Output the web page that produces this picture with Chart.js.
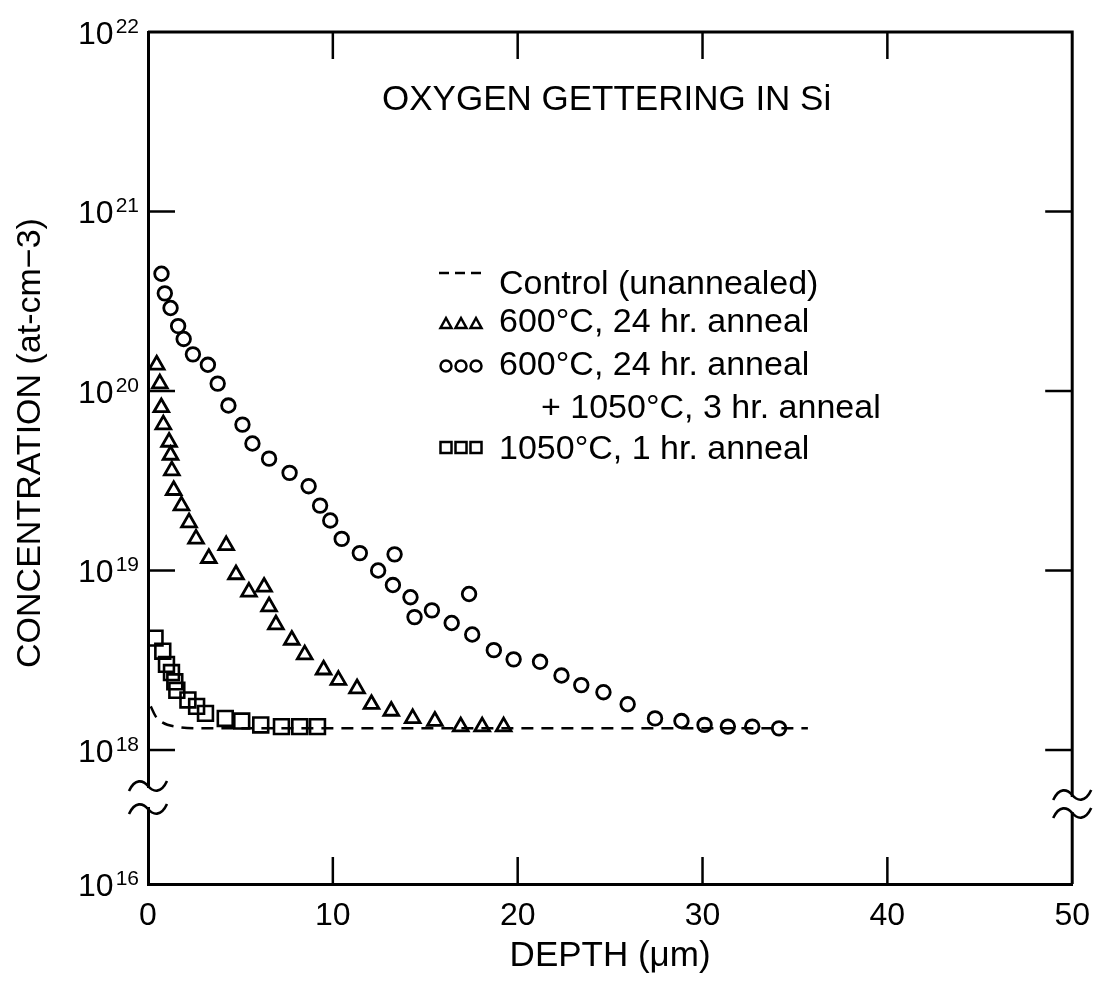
<!DOCTYPE html>
<html>
<head>
<meta charset="utf-8">
<script src="https://cdn.jsdelivr.net/npm/chart.js@4.4.1/dist/chart.umd.min.js"></script>
<style>
html, body { margin: 0; padding: 0; background: #fff; }
canvas { display: block; }
</style>
</head>
<body>
<canvas id="myChart" width="1103" height="983"></canvas>
<script>
const FONT = '"Liberation Sans", Arial, Helvetica, sans-serif';

// depth in um, concentration in at/cm3
const control_depth = [0.15, 0.4, 0.8, 1.5, 3, 35.7];
const control_conc = [1.75e18, 1.55e18, 1.42e18, 1.35e18, 1.32e18, 1.32e18];

const tri_depth = [0.47, 0.64, 0.72, 0.83, 1.14, 1.22, 1.29, 1.39, 1.81, 2.22, 2.60, 3.29, 4.23, 4.76, 5.46,
  6.28, 6.55, 6.92, 7.78, 8.48, 9.50, 10.30, 11.31, 12.09, 13.16, 14.32, 15.52, 16.92, 18.08, 19.24];
const tri_conc = [1.4e20, 1.1e20, 8.1e19, 6.5e19, 5.2e19, 4.4e19, 3.6e19, 2.8e19, 2.3e19, 1.85e19, 1.5e19, 1.17e19, 1.38e19, 9.5e18, 7.6e18,
  8.1e18, 6.3e18, 5.0e18, 4.1e18, 3.4e18, 2.8e18, 2.45e18, 2.2e18, 1.8e18, 1.65e18, 1.5e18, 1.45e18, 1.35e18, 1.35e18, 1.35e18];

const circ_depth = [0.73, 0.91, 1.22, 1.63, 1.93, 2.43, 3.24, 3.77, 4.35, 5.11, 5.65, 6.55, 7.66, 8.69, 9.31, 9.86,
  10.48, 11.46, 12.45, 13.34, 13.25, 14.20, 14.42, 15.36, 16.43, 17.37, 17.54, 18.71, 19.78, 21.21, 22.37, 23.44,
  24.64, 25.95, 27.43, 28.86, 30.11, 31.37, 32.69, 34.14];
const circ_conc = [4.5e20, 3.5e20, 2.9e20, 2.3e20, 1.95e20, 1.6e20, 1.4e20, 1.1e20, 8.3e19, 6.5e19, 5.1e19, 4.2e19, 3.5e19, 2.95e19, 2.3e19, 1.9e19,
  1.5e19, 1.25e19, 1.0e19, 1.23e19, 8.3e18, 7.1e18, 5.5e18, 6.0e18, 5.1e18, 7.4e18, 4.4e18, 3.6e18, 3.2e18, 3.1e18, 2.6e18, 2.3e18,
  2.1e18, 1.8e18, 1.5e18, 1.45e18, 1.38e18, 1.35e18, 1.35e18, 1.32e18];

const sq_depth = [0.38, 0.80, 1.00, 1.27, 1.45, 1.56, 2.16, 2.63, 3.11, 4.18, 5.07, 6.10, 7.22, 8.21, 9.17];
const sq_conc = [4.2e18, 3.55e18, 3.0e18, 2.7e18, 2.4e18, 2.15e18, 1.9e18, 1.75e18, 1.6e18, 1.5e18, 1.45e18, 1.38e18, 1.35e18, 1.35e18, 1.35e18];

const xTicks = [0, 10, 20, 30, 40, 50];
// y axis has a break between 10^18 and 10^16, the bottom of the axis is labelled 10^16
const yBottom = 1.793e17;
const yTickValues = [1e22, 1e21, 1e20, 1e19, 1e18, yBottom];
const yTickExps = ['22', '21', '20', '19', '18', '16'];

const chartTitle = 'OXYGEN GETTERING IN Si';
const xTitle = 'DEPTH (\u03bcm)';
const yTitle = 'CONCENTRATION (at-cm\u22123)';
const legendLabels = ['Control (unannealed)', '600\u00b0C, 24 hr. anneal', '600\u00b0C, 24 hr. anneal', '+ 1050\u00b0C, 3 hr. anneal', '1050\u00b0C, 1 hr. anneal'];

function toPoints(xs, ys) {
  return xs.map((x, i) => ({ x: x, y: ys[i] }));
}

function line(ctx, x1, y1, x2, y2) {
  ctx.beginPath();
  ctx.moveTo(x1, y1);
  ctx.lineTo(x2, y2);
  ctx.stroke();
}

function breakMark(ctx, x, y) {
  ctx.beginPath();
  ctx.moveTo(x - 19, y + 5);
  ctx.bezierCurveTo(x - 13, y - 8, x - 5, y - 6, x, y);
  ctx.bezierCurveTo(x + 5, y + 6, x + 13, y + 8, x + 19, y - 5);
  ctx.stroke();
}

const decorPlugin = {
  id: 'decor',
  afterDraw(chart) {
    const ctx = chart.ctx;
    const xs = chart.scales.x;
    const ys = chart.scales.y;
    const a = chart.chartArea;
    ctx.save();
    ctx.strokeStyle = '#000';
    ctx.fillStyle = '#000';
    ctx.lineCap = 'butt';

    // top and right side of the frame
    ctx.lineWidth = 3;
    ctx.beginPath();
    ctx.moveTo(a.left, a.top);
    ctx.lineTo(a.right, a.top);
    ctx.lineTo(a.right, a.bottom);
    ctx.stroke();

    // inward ticks
    ctx.lineWidth = 2.5;
    xTicks.forEach(v => {
      if (v === xs.min || v === xs.max) return;
      const px = xs.getPixelForValue(v);
      line(ctx, px, a.bottom, px, a.bottom - 27);
      line(ctx, px, a.top, px, a.top + 27);
    });
    yTickValues.forEach((v, i) => {
      if (i === 0 || i === yTickValues.length - 1) return;
      const py = ys.getPixelForValue(v);
      line(ctx, a.left, py, a.left + 27, py);
      line(ctx, a.right, py, a.right - 27, py);
    });

    // axis break marks
    const y18 = ys.getPixelForValue(1e18);
    ctx.fillStyle = '#fff';
    ctx.fillRect(a.left - 4, y18 + 38, 8, 19);
    ctx.fillRect(a.right - 4, y18 + 47, 8, 15);
    ctx.fillStyle = '#000';
    ctx.lineWidth = 2.6;
    breakMark(ctx, a.left, y18 + 36);
    breakMark(ctx, a.left, y18 + 59);
    breakMark(ctx, a.right, y18 + 45);
    breakMark(ctx, a.right, y18 + 63);

    // y tick labels 10^n
    ctx.textBaseline = 'alphabetic';
    ctx.textAlign = 'left';
    yTickValues.forEach((v, i) => {
      const py = ys.getPixelForValue(v);
      ctx.font = '21px ' + FONT;
      const we = ctx.measureText(yTickExps[i]).width;
      ctx.font = '32px ' + FONT;
      const wb = ctx.measureText('10').width;
      const xr = 139;
      ctx.fillText('10', xr - we - 2 - wb, py + 11.5);
      ctx.font = '21px ' + FONT;
      ctx.fillText(yTickExps[i], xr - we, py + 0.5);
    });

    // y title
    ctx.save();
    ctx.translate(31, 443);
    ctx.rotate(-Math.PI / 2);
    ctx.font = '34px ' + FONT;
    ctx.textAlign = 'center';
    ctx.textBaseline = 'middle';
    ctx.fillText(yTitle, 0, 0);
    ctx.restore();

    // chart title inside the plot
    ctx.font = '35px ' + FONT;
    ctx.textAlign = 'left';
    ctx.fillText(chartTitle, 382, 109.5);

    // legend
    ctx.font = '34px ' + FONT;
    const baselines = [293.8, 332.3, 374.6, 417.9, 459.3];
    legendLabels.forEach((t, i) => {
      ctx.fillText(t, i === 3 ? 541 : 499, baselines[i]);
    });
    ctx.lineWidth = 2.5;
    // dashes
    [439, 455, 471].forEach(x0 => line(ctx, x0, 273, x0 + 10, 273));
    // triangles
    [446, 461, 476].forEach(cx => {
      ctx.beginPath();
      ctx.moveTo(cx, 318);
      ctx.lineTo(cx + 5.5, 328);
      ctx.lineTo(cx - 5.5, 328);
      ctx.closePath();
      ctx.stroke();
    });
    // circles
    [446, 461, 476].forEach(cx => {
      ctx.beginPath();
      ctx.arc(cx, 366, 5.5, 0, Math.PI * 2);
      ctx.stroke();
    });
    // squares
    [446, 461, 476].forEach(cx => {
      ctx.strokeRect(cx - 5.5, 442, 11, 11);
    });
    ctx.restore();
  }
};

Chart.defaults.font.family = FONT;
Chart.defaults.color = '#000';

const ctx = document.getElementById('myChart').getContext('2d');
const myChart = new Chart(ctx, {
  type: 'line',
  data: {
    datasets: [
      {
        label: legendLabels[0],
        data: toPoints(control_depth, control_conc),
        borderColor: '#000',
        borderWidth: 2.5,
        borderDash: [12, 8],
        pointRadius: 0,
        cubicInterpolationMode: 'monotone',
        fill: false
      },
      {
        label: legendLabels[1],
        data: toPoints(tri_depth, tri_conc),
        showLine: false,
        pointStyle: 'triangle',
        pointRadius: 8.5,
        pointBorderWidth: 2.8,
        pointBorderColor: '#000',
        pointBackgroundColor: 'rgba(0,0,0,0)'
      },
      {
        label: legendLabels[2] + ' ' + legendLabels[3],
        data: toPoints(circ_depth, circ_conc),
        showLine: false,
        pointStyle: 'circle',
        pointRadius: 6.8,
        pointBorderWidth: 2.8,
        pointBorderColor: '#000',
        pointBackgroundColor: 'rgba(0,0,0,0)'
      },
      {
        label: legendLabels[4],
        data: toPoints(sq_depth, sq_conc),
        showLine: false,
        pointStyle: 'rect',
        pointRadius: 10.5,
        pointBorderWidth: 2.6,
        pointBorderColor: '#000',
        pointBackgroundColor: 'rgba(0,0,0,0)'
      }
    ]
  },
  options: {
    responsive: false,
    animation: false,
    devicePixelRatio: 1,
    layout: { padding: { top: 32, right: 23, left: 0, bottom: 0 } },
    plugins: {
      legend: { display: false },
      tooltip: { enabled: false }
    },
    scales: {
      x: {
        type: 'linear',
        min: 0,
        max: 50,
        grid: { display: false, drawTicks: false },
        border: { display: true, color: '#000', width: 3 },
        ticks: {
          stepSize: 10,
          autoSkip: false,
          maxRotation: 0,
          padding: 13,
          color: '#000',
          font: { size: 32 }
        },
        title: {
          display: true,
          text: xTitle,
          color: '#000',
          font: { size: 35 },
          padding: { top: 0, bottom: 6 }
        },
        afterFit(scale) { scale.height = 99; }
      },
      y: {
        type: 'logarithmic',
        min: yBottom,
        max: 1e22,
        bounds: 'data',
        grid: { display: false, drawTicks: false },
        border: { display: true, color: '#000', width: 3 },
        ticks: { display: false },
        afterFit(scale) { scale.width = 148; }
      }
    }
  },
  plugins: [decorPlugin]
});
</script>
</body>
</html>
